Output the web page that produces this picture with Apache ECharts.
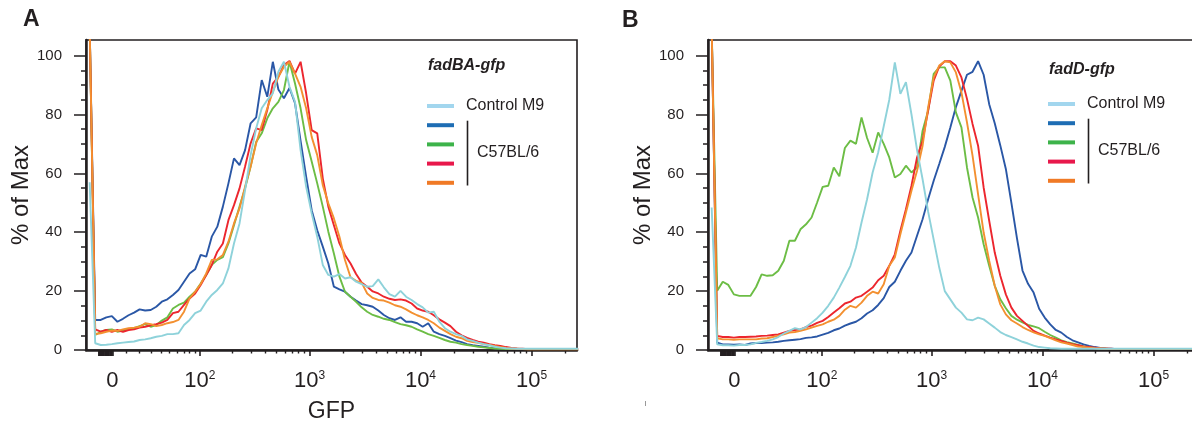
<!DOCTYPE html>
<html>
<head>
<meta charset="utf-8">
<script src="https://cdn.jsdelivr.net/npm/echarts@6/dist/echarts.min.js"></script>
<style>
  html, body { margin: 0; padding: 0; background: #fff; }
  #chart { width: 1192px; height: 428px; }
</style>
</head>
<body>
<div id="chart"></div>
<script>
// histogram channels, position in decades on the biexponential GFP scale
var binStart = 1.02, binStep = 0.05, binCount = 89;
var binPos = [];
for (var i = 0; i < binCount; i++) {
  binPos.push(+(binStart + i * binStep).toFixed(2));
}

// tick values in GFP units
var majorGFP = [0, 100, 1000, 10000, 100000];
var majorText = ['0', '10{s|2}', '10{s|3}', '10{s|4}', '10{s|5}'];
var zeroBlockGFP = [-10, -9.5, -9, -8.5, -8, -7.5, -7, -6.5, -6, -5.5, -5, -4.5, -4, -3.5, -3, -2.5, -2, -1.5, -1, -0.5];
var minorGFP = [10, 20, 30, 40, 50, 60, 70, 80, 90,
  200, 300, 400, 500, 600, 700, 800, 900,
  2000, 3000, 4000, 5000, 6000, 7000, 8000, 9000,
  20000, 30000, 40000, 50000, 60000, 70000, 80000, 90000, 200000];
var yMajor = [0, 20, 40, 60, 80, 100];
var yMinor = [5, 10, 15, 25, 30, 35, 45, 50, 55, 65, 70, 75, 85, 90, 95];

var seriesNames = ['Control M9', 'C57BL/6 1', 'C57BL/6 2', 'C57BL/6 3', 'C57BL/6 4'];
var lineColors = ['#8ed2da', '#2a57a6', '#6cbd45', '#ec262e', '#f39030'];
var legendColors = ['#a2d6ee', '#1e6db4', '#3db34a', '#e8184b', '#f07a26'];

// panel A : fadBA-gfp  (% of max per channel)
var cyanA = [57, 2.3, 1.7, 1.8, 2, 2.3, 2.5, 2.7, 2.9, 3.4,
  3.6, 4, 4.5, 4.8, 5.4, 5.4, 5.7, 8.5, 10.2, 12.5,
  13.4, 16.4, 18.7, 20.4, 22.6, 27.7, 36.2, 43, 54.3, 66.2,
  75.3, 82.1, 84.9, 87.2, 94.5, 97.9, 89.4, 84.3, 67.9, 55.5,
  46.4, 38.5, 28.9, 25.5, 24.9, 25.8, 24.3, 24.7, 23.2, 22.4,
  21.5, 21.7, 24, 21.3, 19, 18.1, 20.1, 18.1, 17, 15.6,
  14.5, 12.7, 13, 9.6, 7.4, 6.2, 5.4, 4.8, 3.6, 3.1,
  2.5, 2, 1.6, 1.1, 0.8, 0.6, 0.5, 0.4, 0.4, 0.4,
  0.4, 0.4, 0.4, 0.4, 0.4, 0.4, 0.4, 0.4, 0.4];
var blueA = [110, 10.2, 10.2, 11.1, 11.5, 9.6, 10.6, 11.8, 12.7, 13.8,
  13.4, 13.6, 14.7, 16.4, 17.2, 18.7, 20.4, 23.2, 26, 27.4,
  32.3, 31.7, 38.5, 41.9, 48.7, 56.6, 65.1, 62.8, 67.9, 77,
  79, 91.7, 86, 97.9, 88.5, 85.5, 89, 83.8, 71, 58.9,
  47.5, 40.7, 35.1, 29.4, 21.5, 20.6, 19.8, 18.1, 16.8, 15.6,
  15.2, 14.7, 13.4, 11.9, 10.8, 10.2, 11.1, 9.6, 9.6, 9.1,
  7.9, 9.1, 6.2, 5.4, 4.8, 4, 3.2, 2.7, 2, 1.6,
  1.4, 1.1, 0.8, 0.6, 0.5, 0.4, 0.3, 0.3, 0.3, 0.3,
  0.3, 0.3, 0.3, 0.3, 0.3, 0.3, 0.3, 0.3, 0.3];
var greenA = [110, 5.1, 6.2, 6.8, 7, 6.2, 6.6, 7, 7.4, 8.1,
  8.8, 7.9, 8.5, 10, 11.1, 14.1, 15.3, 16.1, 18.1, 19.8,
  22.6, 25.5, 28.9, 30.6, 31.5, 36.2, 42.4, 48.7, 54.9, 62.3,
  70.7, 73.6, 78.7, 82.1, 84.3, 88.3, 97.9, 90.5, 82.1, 71.3,
  64, 56.6, 48.7, 40.2, 32.8, 24.9, 19.8, 18.1, 16.4, 14.5,
  13, 11.9, 11.3, 10.6, 10.2, 9.5, 8.8, 8.4, 7.9, 7,
  6.2, 5.4, 4.8, 4.1, 3.4, 2.8, 2.5, 2, 1.7, 1.4,
  1.1, 0.9, 0.7, 0.5, 0.4, 0.3, 0.3, 0.3, 0.3, 0.3,
  0.3, 0.3, 0.3, 0.3, 0.3, 0.3, 0.3, 0.3, 0.3];
var redA = [110, 7, 6.2, 6.8, 6.2, 6.8, 6.2, 6.8, 7, 7.6,
  7.9, 8.4, 8.8, 9.3, 10.2, 12.5, 13, 15.3, 17.5, 19.2,
  22.1, 25.5, 28.9, 33.4, 36.2, 44.1, 49.2, 54.9, 62.3, 70.2,
  75.3, 74.7, 81.5, 90.5, 92.8, 96.8, 98.2, 93.9, 97.9, 87.2,
  74.7, 73.6, 58.3, 48.7, 42.4, 36.2, 32.3, 29.4, 25.8, 22.9,
  21.5, 19.9, 19.2, 18.1, 17.4, 17, 17.2, 16.8, 15.8, 14.1,
  13.4, 13, 11.8, 10.4, 9.3, 8.1, 6.2, 5, 4.1, 3.4,
  2.8, 2.5, 2, 1.6, 1.4, 1, 0.7, 0.5, 0.4, 0.3,
  0.3, 0.3, 0.3, 0.3, 0.3, 0.3, 0.3, 0.3, 0.3];
var orangeA = [110, 5.4, 5.7, 6.2, 6.6, 6.5, 7, 7.4, 7.6, 7.9,
  9.1, 8.8, 8.1, 8.5, 9.1, 9.5, 10.2, 13, 17.5, 19.8,
  22.4, 26, 30.6, 30.8, 32.3, 36.8, 43, 48.1, 55.5, 62.3,
  70.2, 76.4, 82.1, 87.7, 92.8, 96.2, 97.9, 93.9, 89.4, 82.1,
  72.4, 66.2, 56, 49.8, 44.7, 38.5, 30.6, 24.7, 23.5, 22.9,
  19.2, 17.7, 17, 16.8, 16.1, 15.2, 14.7, 13.8, 12.7, 11.8,
  11.1, 10.2, 9.1, 7.6, 6.5, 5.4, 4.5, 4, 3.1, 2.7,
  2.4, 2, 1.7, 1.4, 1, 0.7, 0.5, 0.4, 0.3, 0.2,
  0.2, 0.2, 0.2, 0.2, 0.2, 0.2, 0.2, 0.2, 0.2];

// panel B : fadD-gfp
var cyanB = [48.4, 1.9, 1.6, 1.6, 1.5, 1.7, 1.7, 1.9, 2.4, 2.7,
  3.1, 3.6, 4.4, 5.6, 6.5, 7.4, 7, 7.8, 9.3, 10.8,
  12.7, 15, 17.8, 21.2, 24.8, 28.6, 34.8, 43.3, 51.2, 60.3,
  67.1, 76, 85, 97.7, 87, 91, 80, 68, 58, 47,
  37.5, 28, 20, 17.2, 14.4, 12.7, 10.4, 10.1, 11, 10.4,
  9, 7.6, 6.1, 5.1, 4.4, 3.6, 2.8, 2.2, 1.5, 1,
  0.8, 0.6, 0.5, 0.4, 0.4, 0.4, 0.4, 0.4, 0.4, 0.4,
  0.4, 0.4, 0.4, 0.4, 0.4, 0.4, 0.4, 0.4, 0.4, 0.4,
  0.4, 0.4, 0.4, 0.4, 0.4, 0.4, 0.4, 0.4, 0.4];
var blueB = [110, 2.5, 1.9, 1.9, 1.8, 1.9, 1.7, 2.2, 2.4, 2.4,
  2.5, 2.6, 2.8, 3.1, 3.3, 3.5, 3.7, 4.1, 4.3, 4.6,
  5.2, 5.8, 6.7, 7.3, 8.3, 9, 9.6, 10.8, 12.4, 13.5,
  15.3, 17.6, 21.4, 23.2, 26.9, 30.3, 33.1, 38.8, 44.4, 51.2,
  57.5, 63.2, 69, 75.6, 82.5, 88, 93.5, 94.5, 98.1, 93.5,
  83.5, 77, 69.5, 61.5, 50, 38, 27, 22.5, 19.5, 14,
  11, 8.7, 6.8, 5.9, 4.4, 3.3, 2.6, 1.9, 1.4, 1,
  0.7, 0.5, 0.4, 0.3, 0.3, 0.3, 0.3, 0.3, 0.3, 0.3,
  0.3, 0.3, 0.3, 0.3, 0.3, 0.3, 0.3, 0.3, 0.3];
var greenB = [110, 20.1, 23.2, 22.1, 18.9, 18.4, 18.4, 18.4, 21.4, 25.7,
  25.2, 25.4, 26.9, 30.3, 37.1, 37.1, 41, 42.7, 45, 50.1,
  55.4, 55.8, 62, 59, 68.6, 71.1, 70, 79, 72, 67,
  73.9, 70, 65.4, 58.6, 59.8, 62.6, 60.3, 62, 74.5, 81.3,
  93.8, 96, 96, 91.5, 80.7, 75.6, 62, 51.8, 45, 35.9,
  28.6, 21.8, 17.2, 14.2, 11.6, 10.3, 9.4, 8.5, 8, 7.4,
  6.2, 5.1, 4.2, 3.3, 2.7, 2.2, 1.7, 1.2, 0.9, 0.7,
  0.5, 0.4, 0.3, 0.3, 0.3, 0.3, 0.3, 0.3, 0.3, 0.3,
  0.3, 0.3, 0.3, 0.3, 0.3, 0.3, 0.3, 0.3, 0.3];
var redB = [110, 4.8, 4.4, 4.4, 4.2, 4.4, 4.4, 4.5, 4.6, 4.8,
  4.9, 5.1, 5.3, 5.9, 6.5, 6.8, 7, 7.8, 8.3, 9.2,
  9.9, 11.2, 12.7, 14.2, 15.8, 16.4, 17.8, 18.4, 19.8, 21.2,
  23.7, 25.2, 28.6, 32.5, 40.5, 47.8, 55.8, 65.4, 71.1, 81.3,
  91.5, 96.3, 98.1, 98.1, 96.6, 92.6, 85.3, 76.8, 69.4, 55.2,
  43.9, 33.1, 25.2, 18.9, 14.4, 11.6, 9.9, 8.2, 6.5, 5.6,
  4.9, 4.2, 3.6, 3.1, 2.5, 2, 1.6, 1.2, 1, 0.8,
  0.6, 0.5, 0.4, 0.3, 0.3, 0.3, 0.3, 0.3, 0.3, 0.3,
  0.3, 0.3, 0.3, 0.3, 0.3, 0.3, 0.3, 0.3, 0.3];
var orangeB = [110, 4, 3.6, 3.6, 3.5, 3.6, 3.6, 3.6, 3.6, 3.9,
  4, 4.4, 4.9, 5.3, 5.9, 6.1, 6.5, 7, 7.6, 8.2,
  8.7, 9.6, 10.3, 11.6, 13.7, 15, 14.4, 16.1, 18.4, 19.8,
  19.2, 22.3, 28.6, 31.4, 39.3, 46.7, 54.1, 60.9, 69.4, 82.4,
  92.6, 96.6, 98.1, 97.7, 94.3, 87.5, 77.3, 66, 52.9, 39.9,
  30.3, 21.8, 15.5, 12.1, 10.1, 9, 7.8, 6.8, 6, 5.3,
  4.8, 4, 3.3, 2.6, 2.2, 1.7, 1.2, 1, 0.8, 0.6,
  0.5, 0.4, 0.3, 0.3, 0.3, 0.3, 0.3, 0.3, 0.3, 0.3,
  0.3, 0.3, 0.3, 0.3, 0.3, 0.3, 0.3, 0.3, 0.3];

var panelA = [cyanA, blueA, greenA, redA, orangeA];
var panelB = [cyanB, blueB, greenB, redB, orangeB];

var ink = '#231f20';
var font = '"Liberation Sans", Arial, Helvetica, sans-serif';

// biexponential display transform (GFP -> decades)
var C = 16.8;
function biex(v) {
  return Math.log10((v + Math.sqrt(v * v + 4 * C * C)) / 2);
}

var xMin = 0.987, xMax = 5.41, yMax = 105.3;
var majorU = majorGFP.map(biex);
var majorTickU = zeroBlockGFP.map(biex).concat(majorU);
var minorU = minorGFP.map(biex);

function labelFor(val) {
  for (var i = 0; i < majorU.length; i++) {
    if (Math.abs(majorU[i] - val) < 1e-6) return majorText[i];
  }
  return '';
}

function xAxes(g, withName) {
  return [{
    type: 'value', gridIndex: g, position: 'bottom', min: xMin, max: xMax,
    axisLine: { show: true, onZero: false, lineStyle: { color: ink, width: 2.5 } },
    axisTick: { show: true, customValues: majorTickU, length: 6, lineStyle: { color: ink, width: 1.6 } },
    axisLabel: {
      show: true, customValues: majorU, margin: 20, color: ink, fontFamily: font, fontSize: 22,
      formatter: labelFor,
      rich: { s: { fontSize: 12, fontFamily: font, color: ink, verticalAlign: 'top', lineHeight: 12 } }
    },
    splitLine: { show: false },
    name: withName ? 'GFP' : '', nameLocation: 'middle', nameGap: 50,
    nameTextStyle: { fontSize: 23, color: ink, fontFamily: font }
  }, {
    type: 'value', gridIndex: g, position: 'bottom', min: xMin, max: xMax,
    axisLine: { show: false },
    axisTick: { show: true, customValues: minorU, length: 3.5, lineStyle: { color: ink, width: 1.4 } },
    axisLabel: { show: false },
    splitLine: { show: false }
  }];
}

function yAxes(g) {
  return [{
    type: 'value', gridIndex: g, position: 'left', min: 0, max: yMax,
    axisLine: { show: true, onZero: false, lineStyle: { color: ink, width: 2.5 } },
    axisTick: { show: true, customValues: yMajor, length: 12, lineStyle: { color: ink, width: 1.5 } },
    axisLabel: { show: true, customValues: yMajor, margin: 24, color: ink, fontFamily: font, fontSize: 15 },
    splitLine: { show: false },
    name: '% of Max', nameLocation: 'middle', nameGap: 52,
    nameTextStyle: { fontSize: 24, color: ink, fontFamily: font }
  }, {
    type: 'value', gridIndex: g, position: 'left', min: 0, max: yMax,
    axisLine: { show: false },
    axisTick: { show: true, customValues: yMinor, length: 5, lineStyle: { color: ink, width: 1.5 } },
    axisLabel: { show: false },
    splitLine: { show: false }
  }];
}

function pairs(vals) {
  var out = [];
  for (var i = 0; i < vals.length; i++) out.push([binPos[i], vals[i]]);
  return out;
}

// draw order: blue, green, red, orange, then control on top
var drawOrder = [1, 2, 3, 4, 0];
var series = [];
[panelA, panelB].forEach(function (panel, p) {
  drawOrder.forEach(function (k) {
    series.push({
      type: 'line', name: seriesNames[k], xAxisIndex: p * 2, yAxisIndex: p * 2,
      data: pairs(panel[k]), showSymbol: false, symbol: 'none', clip: true,
      silent: true, animation: false,
      lineStyle: { color: lineColors[k], width: 1.9 }
    });
  });
});

function legendEls(x0, y0, titleY, title) {
  var els = [];
  var gap = 19.2;
  els.push({ type: 'text', x: x0 + 1, y: titleY, style: {
    text: title, fill: ink, fontFamily: font, fontSize: 16, fontWeight: 'bold', fontStyle: 'italic',
    align: 'left', verticalAlign: 'middle' } });
  for (var i = 0; i < legendColors.length; i++) {
    els.push({ type: 'line', shape: { x1: x0, y1: y0 + i * gap, x2: x0 + 27, y2: y0 + i * gap },
      style: { stroke: legendColors[i], lineWidth: 4 } });
  }
  els.push({ type: 'text', x: x0 + 39, y: y0, style: {
    text: seriesNames[0], fill: ink, fontFamily: font, fontSize: 16, align: 'left', verticalAlign: 'middle' } });
  els.push({ type: 'line', shape: { x1: x0 + 40.5, y1: y0 + 14.7, x2: x0 + 40.5, y2: y0 + 79.5 },
    style: { stroke: ink, lineWidth: 1.6 } });
  els.push({ type: 'text', x: x0 + 50, y: y0 + 46.5, style: {
    text: 'C57BL/6', fill: ink, fontFamily: font, fontSize: 16, align: 'left', verticalAlign: 'middle' } });
  return els;
}

var graphics = [
  { type: 'text', x: 23, y: 20, style: { text: 'A', fill: ink, fontFamily: font, fontSize: 23, fontWeight: 'bold', verticalAlign: 'middle' } },
  { type: 'text', x: 622, y: 20.5, style: { text: 'B', fill: ink, fontFamily: font, fontSize: 23, fontWeight: 'bold', verticalAlign: 'middle' } },
  { type: 'line', shape: { x1: 645.5, y1: 401, x2: 645.5, y2: 406 }, style: { stroke: '#999', lineWidth: 1 } }
].concat(legendEls(427, 106, 66, 'fadBA-gfp'), legendEls(1048, 104, 69.3, 'fadD-gfp'));

var chart = echarts.init(document.getElementById('chart'), null, { renderer: 'canvas' });
chart.setOption({
  backgroundColor: '#fff',
  animation: false,
  grid: [
    { left: 86, top: 40, width: 491, height: 310, show: true, borderColor: ink, borderWidth: 1.6,
      backgroundColor: 'transparent', outerBoundsMode: 'none', containLabel: false },
    { left: 708, top: 40, width: 491, height: 310, show: true, borderColor: ink, borderWidth: 1.6,
      backgroundColor: 'transparent', outerBoundsMode: 'none', containLabel: false }
  ],
  xAxis: xAxes(0, true).concat(xAxes(1, false)),
  yAxis: yAxes(0).concat(yAxes(1)),
  series: series,
  graphic: graphics
});
</script>
</body>
</html>
